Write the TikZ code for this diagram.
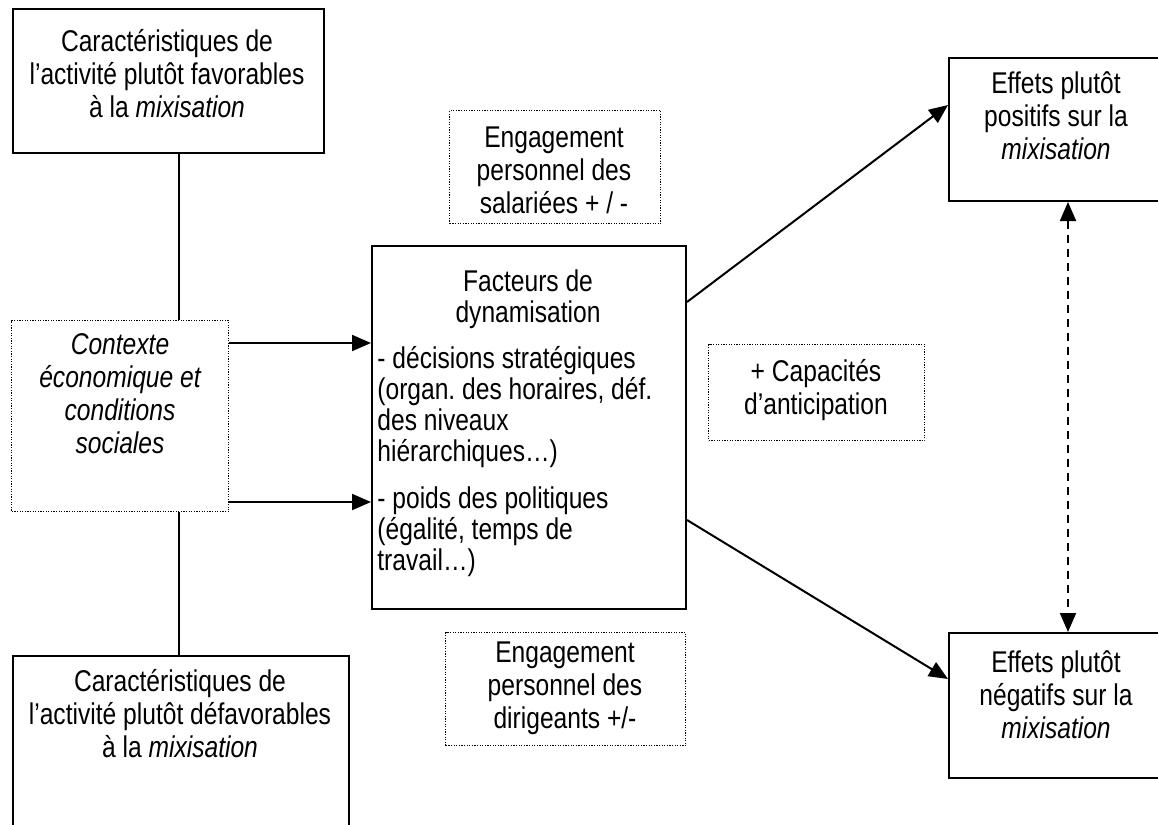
\documentclass[tikz,border=0pt]{standalone}
\usepackage{fontspec}
\setmainfont{Liberation Sans}[FakeStretch=0.82]
\frenchspacing
\usetikzlibrary{arrows.meta}

\tikzset{
  solidbox/.style={draw=black,line width=1pt,inner sep=0pt,anchor=north west},
  dotbox/.style={draw=black,line width=0.7pt,dash pattern=on 0.6pt off 0.7pt,inner sep=0pt,anchor=north west},
  txt/.style={align=center,inner sep=0pt,font=\fontsize{15}{16.5}\selectfont},
  link/.style={line width=1pt},
  arr/.style={line width=1pt,-{Triangle[length=9.5pt,width=8pt]}},
  dashlink/.style={line width=1pt,dash pattern=on 4pt off 3pt,{Triangle[length=9.5pt,width=8pt]}-{Triangle[length=9.5pt,width=8pt]}}
}

\begin{document}
\begin{tikzpicture}[x=0.5pt,y=-0.5pt]
\useasboundingbox (0,0) rectangle (1158,825);
% left column
\node[solidbox,minimum width=155.5pt,minimum height=72pt] (fav) at (12,8) {};
\node[txt] (favT) at (167,74) {Caractéristiques de\\l’activité plutôt favorables\\à la \textit{mixisation}};
\node[dotbox,minimum width=108.5pt,minimum height=95.5pt] (ctx) at (11,320) {};
\node[txt,font=\fontsize{15}{16.5}\selectfont\itshape] (ctxT) at (120,394) {Contexte\\économique et\\conditions\\sociales};
\node[solidbox,minimum width=168pt,minimum height=95pt] (def) at (12,655) {};
\node[txt] (defT) at (180,714) {Caractéristiques de\\l’activité plutôt défavorables\\à la \textit{mixisation}};
% middle column
\node[dotbox,minimum width=105.5pt,minimum height=56.5pt] (sal) at (449,110) {};
\node[txt] (salT) at (554,170) {Engagement\\personnel des\\salariées + / -};
\node[solidbox,minimum width=157pt,minimum height=181.5pt] (fac) at (371,245) {};
\node[txt,font=\fontsize{15}{15.5}\selectfont] (facT) at (528,299) {Facteurs de\\dynamisation};
\node[txt,align=left,anchor=west,font=\fontsize{15}{15.5}\selectfont] (facL) at (377,462)
  {- décisions stratégiques\\(organ. des horaires, déf.\\des niveaux\\hiérarchiques…)\\[8pt]
   - poids des politiques\\(égalité, temps de\\travail…)};
\node[dotbox,minimum width=120pt,minimum height=56.5pt] (dir) at (445,632) {};
\node[txt] (dirT) at (565,688) {Engagement\\personnel des\\dirigeants +/-};
\node[dotbox,minimum width=108pt,minimum height=48pt] (cap) at (708,344) {};
\node[txt] (capT) at (816,390) {+ Capacités\\d’anticipation};
% right column
\node[solidbox,minimum width=108pt,minimum height=71.5pt] (pos) at (948,57) {};
\node[txt] (posT) at (1056,116) {Effets plutôt\\positifs sur la\\\textit{mixisation}};
\node[solidbox,minimum width=108pt,minimum height=72.5pt] (neg) at (948,632) {};
\node[txt] (negT) at (1056,695) {Effets plutôt\\négatifs sur la\\\textit{mixisation}};
% connectors
\coordinate (spine) at (179,0);
\draw[link] (fav.south -| spine) -- (ctx.north -| spine);
\draw[link] (ctx.south -| spine) -- (def.north -| spine);
\draw[arr] (ctx.east |- 0,343) -- (fac.west |- 0,343);
\draw[arr] (ctx.east |- 0,502) -- (fac.west |- 0,502);
\draw[arr] (fac.east |- 0,302) -- (pos.west |- 0,105);
\draw[arr] (fac.east |- 0,520) -- (neg.west |- 0,679);
\draw[dashlink] (pos.south -| 1068,0) -- (neg.north -| 1068,0);
\end{tikzpicture}
\end{document}
